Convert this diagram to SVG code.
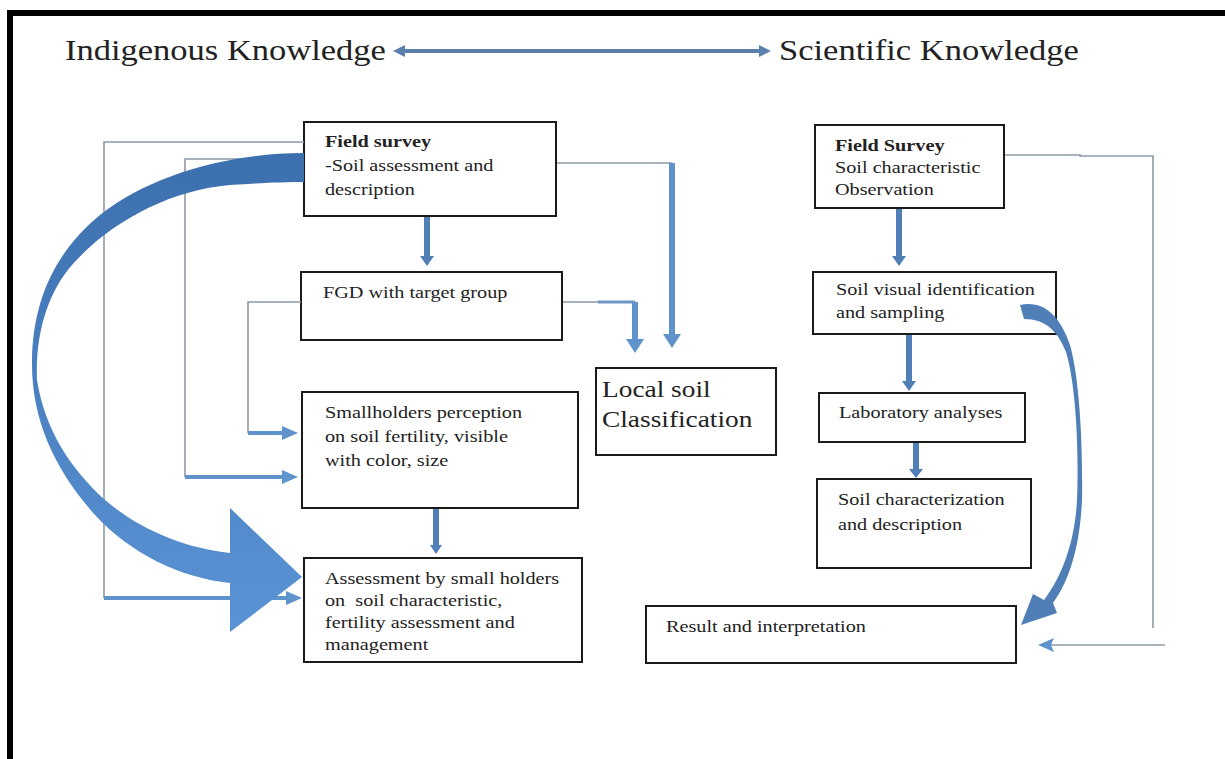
<svg xmlns="http://www.w3.org/2000/svg" width="1225" height="759" viewBox="0 0 1225 759">
<defs>
<style>
.box{fill:#fff;stroke:#1a1a1a;stroke-width:2}
.t{font-family:"Liberation Serif","Times New Roman",serif;font-size:17px;fill:#222;white-space:pre}
.b{font-weight:bold}
.title{font-family:"Liberation Serif","Times New Roman",serif;font-size:29px;fill:#222}
.big{font-family:"Liberation Serif","Times New Roman",serif;font-size:23px;fill:#222}
.thin{fill:none;stroke:#8d9aa8;stroke-width:1.6}
.blue{fill:#4f7fb6}
.lblue{fill:#5f93cc}
</style>
<linearGradient id="g" x1="0" y1="0" x2="0" y2="1">
<stop offset="0" stop-color="#3c6fae"/>
<stop offset="1" stop-color="#5a93d4"/>
</linearGradient>
</defs>
<rect width="1225" height="759" fill="#fff"/>
<path d="M10,759 V13 H1225" fill="none" stroke="#000" stroke-width="6"/>

<text class="title" transform="translate(65,60) scale(1.19,1)">Indigenous Knowledge</text>
<text class="title" transform="translate(779,60) scale(1.19,1)">Scientific Knowledge</text>

<g id="n-field-survey-ik">
<rect class="box" x="304" y="122" width="252" height="94"/>
<text class="t" transform="translate(325,147) scale(1.19,1)"><tspan class="b" x="0" y="0">Field survey</tspan><tspan x="0" y="24">-Soil assessment and</tspan><tspan x="0" y="48">description</tspan></text>
</g>
<g id="n-fgd">
<rect class="box" x="301" y="272" width="261" height="68"/>
<text class="t" transform="translate(323,298) scale(1.19,1)">FGD with target group</text>
</g>
<g id="n-smallholders">
<rect class="box" x="302" y="392" width="276" height="116"/>
<text class="t" transform="translate(325,418) scale(1.19,1)"><tspan x="0" y="0">Smallholders perception</tspan><tspan x="0" y="24">on soil fertility, visible</tspan><tspan x="0" y="48">with color, size</tspan></text>
</g>
<g id="n-assessment">
<rect class="box" x="304" y="558" width="278" height="104"/>
<text class="t" transform="translate(325,584) scale(1.19,1)"><tspan x="0" y="0">Assessment by small holders</tspan><tspan x="0" y="22">on  soil characteristic,</tspan><tspan x="0" y="44">fertility assessment and</tspan><tspan x="0" y="66">management</tspan></text>
</g>
<g id="n-local-soil">
<rect class="box" x="596" y="368" width="180" height="87"/>
<text class="big" transform="translate(602,397) scale(1.19,1)"><tspan x="0" y="0">Local soil</tspan><tspan x="0" y="30">Classification</tspan></text>
</g>
<g id="n-field-survey-sk">
<rect class="box" x="815" y="125" width="189" height="83"/>
<text class="t" transform="translate(835,151) scale(1.19,1)"><tspan class="b" x="0" y="0">Field Survey</tspan><tspan x="0" y="22">Soil characteristic</tspan><tspan x="0" y="44">Observation</tspan></text>
</g>
<g id="n-soil-visual">
<rect class="box" x="813" y="272" width="243" height="62"/>
<text class="t" transform="translate(836,295) scale(1.19,1)"><tspan x="0" y="0">Soil visual identification</tspan><tspan x="0" y="23">and sampling</tspan></text>
</g>
<g id="n-lab">
<rect class="box" x="819" y="393" width="206" height="49"/>
<text class="t" transform="translate(839,418) scale(1.19,1)">Laboratory analyses</text>
</g>
<g id="n-soil-char">
<rect class="box" x="817" y="479" width="214" height="89"/>
<text class="t" transform="translate(838,505) scale(1.19,1)"><tspan x="0" y="0">Soil characterization</tspan><tspan x="0" y="25">and description</tspan></text>
</g>
<g id="n-result">
<rect class="box" x="646" y="606" width="370" height="57"/>
<text class="t" transform="translate(666,632) scale(1.19,1)">Result and interpretation</text>
</g>

<g id="connectors">
<!-- title double arrow -->
<path d="M393,51 L405,45 L405,49 L759,49 L759,45 L771,51 L759,57 L759,53 L405,53 L405,57 Z" fill="#5a80ab"/>
<!-- left thin routes -->
<path class="thin" d="M304,142 H104 V598"/>
<path class="thin" d="M304,159 H185 V477"/>
<path class="thin" d="M301,302 H248 V433"/>
<path class="lblue" d="M104,596 H286 V591 L302,598 L286,605 V600 H104 Z"/>
<path class="lblue" d="M185,475 H282 V470 L298,477 L282,484 V479 H185 Z"/>
<path class="lblue" d="M248,431 H282 V426 L298,433 L282,440 V435 H248 Z"/>
<!-- field survey -> FGD -->
<path class="blue" d="M424,217 H430 V256 H434 L427,266 L420,256 H424 Z"/>
<!-- field survey -> local soil -->
<path class="thin" d="M557,163 H672"/>
<path class="lblue" d="M669,163 H675 V334 H681 L672,348 L663,334 H669 Z"/>
<!-- FGD -> local soil -->
<path class="thin" d="M563,302 H598"/>
<path d="M598,302 H635" fill="none" stroke="#6f96c4" stroke-width="3"/>
<path class="lblue" d="M632,302 H638 V339 H644 L635,353 L626,339 H632 Z"/>
<!-- smallholders -> assessment -->
<path class="blue" d="M433,509 H439 V545 H442 L436,554 L430,545 H433 Z"/>
<!-- big curved arrow -->
<path fill="url(#g)" d="M304,153 C230,153 150,175 100,215 C55,252 33,300 32,360 C31,420 55,470 95,515 C130,553 180,578 230,583 L230,632 L302,577 L230,508 L230,553 C185,548 140,530 105,500 C70,468 45,430 37,380 C35,330 50,290 72,265 C110,222 170,190 230,185 C260,183 285,182 304,182 Z"/>
<!-- right column arrows -->
<path class="blue" d="M896,209 H902 V256 H906 L899,266 L892,256 H896 Z"/>
<path class="blue" d="M906,335 H912 V381 H916 L909,391 L902,381 H906 Z"/>
<path class="blue" d="M913,443 H919 V469 H923 L916,478 L909,469 H913 Z"/>
<!-- right thin route -->
<path class="thin" d="M1005,155 H1080 V156 H1153 V628"/>
<path class="thin" d="M1165,645 H1050"/>
<path class="lblue" d="M1038,645 L1054,638 L1051,645 L1054,652 Z"/>
<!-- right curved arrow -->
<path class="blue" d="M1020,305 C1044,300 1060,316 1070,345 C1080,380 1083,450 1082,500 C1080,545 1070,580 1053,603 L1057,613 L1021,625 L1033,594 L1044,600 C1063,575 1075,540 1077,500 C1079,450 1076,385 1066,352 C1057,330 1045,319 1024,319 Z"/>
</g>
</svg>
